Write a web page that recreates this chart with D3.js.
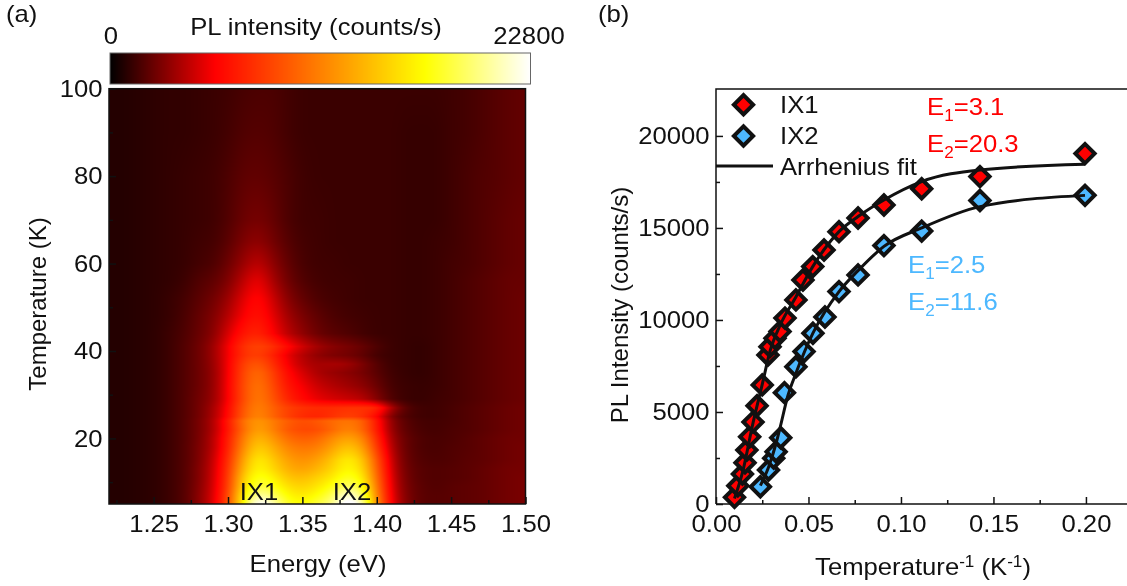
<!DOCTYPE html>
<html>
<head>
<meta charset="utf-8">
<script src="https://cdn.jsdelivr.net/npm/d3@7"></script>
<style>
  html, body { margin: 0; background: #fff; }
  #wrap { position: relative; width: 1127px; height: 586px; overflow: hidden; }
  canvas, svg { position: absolute; left: 0; top: 0; }
  text { font-family: "Liberation Sans", Arial, sans-serif; fill: #111; }
</style>
</head>
<body>
<div id="wrap">
  <canvas id="map" width="1127" height="586"></canvas>
  <svg id="chart" width="1127" height="586"></svg>
</div>
<script>
// Panel (a): PL map, hundreds of counts/s, one row per temperature
const energies = d3.range(29).map(i => +(1.22 + i * 0.01).toFixed(2));
const temps = [5, 7, 9, 11, 13, 15, 18, 20, 22, 24, 25, 27, 29, 32, 35, 37, 39, 41, 44, 48, 52, 56, 60, 65, 70, 80, 90, 100];
const plMap = [
  [8, 8, 9, 10, 13, 18, 30, 48, 88, 170, 240, 215, 178, 170, 185, 200, 245, 220, 120, 52, 28, 20, 19, 20, 21, 22, 24, 26, 27],
  [8, 8, 9, 10, 13, 18, 30, 47, 85, 165, 212, 195, 168, 160, 172, 188, 225, 200, 115, 50, 27, 20, 19, 20, 21, 22, 24, 26, 27],
  [8, 8, 9, 10, 13, 18, 29, 46, 82, 155, 190, 178, 157, 150, 160, 175, 198, 182, 110, 48, 26, 20, 18, 20, 21, 22, 24, 26, 27],
  [8, 8, 9, 10, 13, 18, 28, 45, 80, 148, 180, 167, 145, 140, 150, 162, 182, 168, 105, 46, 25, 19, 18, 19, 20, 22, 24, 26, 27],
  [8, 8, 9, 10, 13, 18, 28, 44, 78, 138, 172, 155, 135, 128, 138, 152, 172, 158, 100, 44, 24, 19, 18, 19, 20, 22, 24, 26, 26],
  [8, 8, 9, 10, 13, 18, 27, 43, 75, 130, 167, 148, 128, 120, 128, 145, 167, 150, 95, 42, 23, 18, 17, 18, 20, 21, 23, 25, 26],
  [8, 8, 9, 10, 13, 18, 27, 40, 70, 118, 152, 135, 115, 108, 112, 128, 147, 132, 82, 38, 22, 17, 16, 18, 19, 21, 23, 25, 26],
  [8, 8, 9, 10, 13, 18, 26, 40, 68, 112, 142, 125, 105, 98, 102, 118, 132, 120, 75, 35, 22, 17, 16, 17, 19, 21, 23, 25, 25],
  [8, 8, 9, 10, 13, 18, 26, 38, 65, 105, 132, 115, 95, 88, 90, 103, 117, 106, 68, 32, 20, 16, 15, 17, 18, 20, 22, 24, 25],
  [8, 8, 9, 10, 13, 18, 26, 38, 66, 108, 127, 112, 98, 90, 95, 104, 110, 103, 66, 30, 19, 15, 15, 16, 18, 20, 22, 24, 25],
  [8, 8, 9, 10, 13, 18, 25, 37, 60, 98, 120, 102, 85, 75, 72, 78, 86, 80, 60, 26, 17, 14, 14, 16, 18, 20, 22, 24, 25],
  [8, 8, 9, 10, 13, 18, 25, 36, 58, 95, 117, 100, 85, 78, 75, 76, 79, 79, 76, 36, 18, 14, 14, 16, 18, 20, 22, 24, 25],
  [8, 8, 9, 10, 13, 18, 25, 33, 55, 90, 114, 95, 72, 60, 52, 48, 45, 42, 30, 17, 13, 12, 14, 15, 17, 19, 21, 23, 24],
  [8, 8, 9, 10, 13, 18, 24, 32, 55, 90, 112, 90, 65, 55, 45, 40, 36, 32, 24, 15, 13, 12, 13, 15, 17, 19, 21, 23, 24],
  [8, 8, 9, 10, 13, 18, 24, 32, 54, 88, 107, 85, 60, 48, 38, 34, 31, 27, 20, 14, 12, 11, 13, 15, 17, 19, 21, 23, 24],
  [8, 8, 9, 10, 13, 18, 24, 33, 54, 85, 98, 78, 55, 42, 36, 38, 36, 28, 19, 13, 12, 11, 13, 15, 17, 19, 21, 23, 24],
  [8, 8, 9, 10, 13, 18, 24, 34, 54, 78, 87, 72, 52, 40, 32, 28, 26, 22, 15, 13, 12, 11, 13, 15, 17, 19, 21, 23, 24],
  [8, 8, 9, 10, 13, 18, 24, 34, 54, 78, 88, 78, 60, 46, 36, 30, 27, 23, 17, 13, 12, 11, 13, 15, 17, 19, 21, 23, 24],
  [8, 8, 9, 10, 13, 17, 23, 30, 48, 66, 74, 58, 42, 32, 24, 20, 18, 15, 13, 13, 12, 12, 13, 15, 17, 19, 21, 23, 24],
  [8, 8, 9, 10, 12, 16, 22, 28, 40, 56, 66, 52, 36, 27, 21, 17, 15, 14, 13, 13, 12, 12, 13, 15, 17, 19, 21, 23, 24],
  [8, 8, 9, 10, 12, 15, 20, 25, 34, 50, 62, 46, 30, 22, 17, 15, 14, 13, 13, 13, 12, 12, 13, 15, 17, 19, 21, 23, 24],
  [8, 8, 9, 10, 11, 13, 18, 21, 28, 42, 55, 38, 25, 18, 15, 14, 14, 13, 13, 13, 12, 12, 13, 15, 17, 19, 21, 23, 23],
  [8, 8, 9, 10, 11, 12, 15, 17, 24, 34, 44, 32, 22, 16, 14, 14, 13, 13, 13, 13, 12, 12, 13, 15, 16, 18, 20, 22, 23],
  [8, 8, 9, 10, 11, 12, 14, 15, 20, 28, 33, 26, 19, 15, 14, 13, 13, 13, 13, 13, 12, 12, 13, 14, 16, 18, 20, 22, 23],
  [8, 8, 9, 10, 11, 12, 13, 14, 18, 24, 27, 23, 17, 14, 14, 13, 13, 13, 13, 13, 12, 12, 12, 14, 16, 18, 20, 22, 23],
  [8, 8, 9, 10, 11, 12, 13, 14, 17, 21, 22, 20, 17, 14, 13, 13, 13, 13, 13, 13, 12, 12, 12, 14, 16, 18, 19, 21, 22],
  [8, 8, 9, 10, 11, 11, 12, 13, 15, 18, 19, 18, 15, 13, 13, 13, 13, 13, 13, 13, 12, 12, 12, 14, 15, 17, 19, 21, 22],
  [8, 8, 9, 10, 11, 11, 12, 13, 14, 16, 17, 17, 15, 13, 13, 13, 13, 13, 13, 13, 13, 13, 13, 14, 15, 17, 19, 21, 22]
];
const colorStops = [0, 57, 114, 171, 228];
const colorRange = ['#000000', '#ff0000', '#ff8000', '#ffff00', '#ffffff'];
const energyTicks = [1.25, 1.30, 1.35, 1.40, 1.45, 1.50];
const energyMinor = [1.225, 1.275, 1.325, 1.375, 1.425, 1.475];
const tempTicks = [20, 40, 60, 80, 100];
const tempMinor = [10, 30, 50, 70, 90];

// Panel (b): integrated intensity against 1/T
const ix1X = [0.0100, 0.0118, 0.0143, 0.0157, 0.0167, 0.0182, 0.0200, 0.0222, 0.0250, 0.0281, 0.0292, 0.0319, 0.0346, 0.0373, 0.0432, 0.0470, 0.0523, 0.0584, 0.0665, 0.0768, 0.0908, 0.1112, 0.1427, 0.1995];
const ix1Y = [360, 990, 1630, 2240, 2930, 3650, 4450, 5340, 6470, 8100, 8550, 9000, 9370, 10100, 11090, 12170, 12900, 13800, 14800, 15540, 16250, 17130, 17790, 19040];
const ix2X = [0.0240, 0.0284, 0.0312, 0.0325, 0.0350, 0.0370, 0.0432, 0.0476, 0.0524, 0.0589, 0.0665, 0.0768, 0.0908, 0.1112, 0.1427, 0.1995];
const ix2Y = [940, 1850, 2490, 2840, 3600, 6050, 7460, 8280, 9280, 10160, 11540, 12450, 14040, 14830, 16490, 16770];
const fit1X = [0.0100, 0.0143, 0.0200, 0.0250, 0.0292, 0.0346, 0.0432, 0.0523, 0.0665, 0.0768, 0.0908, 0.1112, 0.1427, 0.1995];
const fit1Y = [300, 1700, 4400, 6500, 8300, 9700, 11250, 12900, 14800, 15620, 16520, 17520, 18150, 18460];
const fit2X = [0.0240, 0.0284, 0.0325, 0.0346, 0.0389, 0.0432, 0.0524, 0.0665, 0.0768, 0.0908, 0.1112, 0.1427, 0.1995];
const fit2Y = [1000, 2000, 3300, 4130, 5900, 7100, 9280, 11540, 12680, 14000, 15000, 16160, 16770];
const tempInvTicks = [0, 0.05, 0.10, 0.15, 0.20];
const tempInvMinor = [0.025, 0.075, 0.125, 0.175];
const plTicks = [0, 5000, 10000, 15000, 20000];
const plMinor = [2500, 7500, 12500, 17500];

const svg = d3.select('#chart');
const red = '#ff0000';
const blue = '#4db8ff';
const fontSize = 24;
const widen = 1.07; // the horizontal text in the figure runs a bit wide

const label = (lx, ly, str, anchor, fill) => {
  const t = svg.append('text')
    .attr('transform', `translate(${lx},${ly}) scale(${widen},1)`)
    .attr('text-anchor', anchor || 'start')
    .attr('font-size', fontSize);
  if (fill) t.style('fill', fill);
  if (str) t.text(str);
  return t;
};

// (a) map
const x = d3.scaleLinear().domain([1.22, 1.50]).range([109, 525.5]);
const y = d3.scaleLinear().domain([5, 100]).range([504, 88.7]);
const color = d3.scaleLinear().domain(colorStops).range(colorRange).clamp(true);
const rowIndex = d3.scaleLinear().domain(temps).range(temps.map((_, i) => i));
const rowCurves = plMap.map(row => d3.interpolateBasis(row)); // smooth along energy

const ctx = document.getElementById('map').getContext('2d');
const px0 = Math.round(x.range()[0]), px1 = Math.round(x.range()[1]);
const py0 = Math.round(y.range()[1]), py1 = Math.round(y.range()[0]);
for (let py = py0; py < py1; py++) {
  const r = rowIndex(y.invert(py + 0.5));
  const r0 = Math.min(Math.floor(r), temps.length - 2);
  for (let px = px0; px < px1; px++) {
    const t = (x.invert(px + 0.5) - 1.22) / 0.28;
    const value = d3.interpolateNumber(rowCurves[r0](t), rowCurves[r0 + 1](t))(r - r0);
    ctx.fillStyle = color(value);
    ctx.fillRect(px, py, 1, 1);
  }
}

const mapG = svg.append('g');
mapG.append('rect')
  .attr('x', 109).attr('y', 88.7)
  .attr('width', 416.5).attr('height', 415.3)
  .attr('fill', 'none').attr('stroke', '#111').attr('stroke-width', 1.5);

const styleAxis = g => {
  g.select('.domain').remove();
  g.selectAll('line').attr('stroke', '#111').attr('stroke-width', 1.5);
  g.selectAll('text')
    .attr('font-size', fontSize)
    .attr('transform', `scale(${widen},1)`)
    .style('font-family', '"Liberation Sans", Arial, sans-serif')
    .attr('fill', '#111');
};

mapG.append('g').attr('transform', 'translate(0,504)')
  .call(d3.axisBottom(x).tickValues(energyTicks).tickFormat(d3.format('.2f')).tickSize(-7).tickPadding(10.5))
  .call(styleAxis);
mapG.append('g').attr('transform', 'translate(0,504)')
  .call(d3.axisBottom(x).tickValues(energyMinor).tickFormat('').tickSize(-4))
  .call(styleAxis);
mapG.append('g').attr('transform', 'translate(109,0)')
  .call(d3.axisLeft(y).tickValues(tempTicks).tickSize(-7).tickPadding(6))
  .call(styleAxis);
mapG.append('g').attr('transform', 'translate(109,0)')
  .call(d3.axisLeft(y).tickValues(tempMinor).tickFormat('').tickSize(-4))
  .call(styleAxis);

label(259, 500, 'IX1', 'middle');
label(352, 500, 'IX2', 'middle');
label(318, 572, 'Energy (eV)', 'middle');
svg.append('text').attr('transform', 'translate(46,304) rotate(-90)').attr('text-anchor', 'middle').attr('font-size', fontSize).text('Temperature (K)');
label(6, 22, '(a)');
label(598, 22, '(b)');

// colour bar
const barScale = d3.scaleLinear().domain([0, 228]).range([110, 530]);
svg.append('g').selectAll('rect')
  .data(d3.range(110, 530))
  .join('rect')
    .attr('x', d => d)
    .attr('y', 53)
    .attr('width', 1)
    .attr('height', 31)
    .attr('shape-rendering', 'crispEdges')
    .attr('fill', d => color(barScale.invert(d + 0.5)));
svg.append('rect').attr('x', 110).attr('y', 53).attr('width', 420.5).attr('height', 31)
  .attr('fill', 'none').attr('stroke', '#666').attr('stroke-width', 1);
label(111, 44, '0', 'middle');
label(529, 44, '22800', 'middle');
label(316, 35, 'PL intensity (counts/s)', 'middle');

// (b) Arrhenius plot
const bx = d3.scaleLinear().domain([0, 0.2222]).range([716, 1127]);
const by = d3.scaleLinear().domain([0, 22550]).range([504, 89]);

svg.append('path')
  .attr('d', `M716,504H1127M716,504V89H1127`)
  .attr('fill', 'none').attr('stroke', '#111').attr('stroke-width', 1.5);

svg.append('g').attr('transform', 'translate(0,504)')
  .call(d3.axisBottom(bx).tickValues(tempInvTicks).tickFormat(d3.format('.2f')).tickSize(-7).tickPadding(10.5))
  .call(styleAxis);
svg.append('g').attr('transform', 'translate(0,504)')
  .call(d3.axisBottom(bx).tickValues(tempInvMinor).tickFormat('').tickSize(-4))
  .call(styleAxis);
svg.append('g').attr('transform', 'translate(716,0)')
  .call(d3.axisLeft(by).tickValues(plTicks).tickFormat(d3.format('d')).tickSize(-7).tickPadding(6))
  .call(styleAxis);
svg.append('g').attr('transform', 'translate(716,0)')
  .call(d3.axisLeft(by).tickValues(plMinor).tickFormat('').tickSize(-4))
  .call(styleAxis);

const diamond = d3.symbol().type(d3.symbolSquare).size(185);
const drawMarkers = (xs, ys, fill) => {
  svg.append('g').selectAll('path')
    .data(xs.map((d, i) => [d, ys[i]]))
    .join('path')
      .attr('d', diamond)
      .attr('transform', d => `translate(${bx(d[0])},${by(d[1])}) rotate(45)`)
      .attr('fill', fill)
      .attr('stroke', '#111')
      .attr('stroke-width', 4);
};
drawMarkers(ix1X, ix1Y, red);
drawMarkers(ix2X, ix2Y, blue);

const fitLine = d3.line().x(d => bx(d[0])).y(d => by(d[1])).curve(d3.curveMonotoneX);
[[fit1X, fit1Y], [fit2X, fit2Y]].forEach(([xs, ys]) => {
  svg.append('path')
    .attr('d', fitLine(xs.map((d, i) => [d, ys[i]])))
    .attr('fill', 'none').attr('stroke', '#111').attr('stroke-width', 3);
});

// legend
[[104.7, red, 'IX1', 113.3], [136, blue, 'IX2', 143.8]].forEach(([ly, fill, name, base]) => {
  svg.append('path').attr('d', diamond)
    .attr('transform', `translate(743.5,${ly}) rotate(45)`)
    .attr('fill', fill).attr('stroke', '#111').attr('stroke-width', 4);
  label(780, base, name);
});
svg.append('line').attr('x1', 716).attr('x2', 773).attr('y1', 166).attr('y2', 166)
  .attr('stroke', '#111').attr('stroke-width', 3.2);
label(780, 175, 'Arrhenius fit');

// activation energies
const energyLabel = (lx, ly, sub, val, fill) => {
  const t = label(lx, ly, null, 'start', fill);
  t.append('tspan').text('E');
  t.append('tspan').attr('dy', 6).attr('font-size', 16).text(sub);
  t.append('tspan').attr('dy', -6).text('=' + val);
};
energyLabel(927, 115, '1', '3.1', red);
energyLabel(927, 151.5, '2', '20.3', red);
energyLabel(908, 273, '1', '2.5', blue);
energyLabel(908, 310, '2', '11.6', blue);

const xLab = label(923, 575, null, 'middle');
xLab.append('tspan').text('Temperature');
xLab.append('tspan').attr('dy', -8).attr('font-size', 16).text('-1');
xLab.append('tspan').attr('dy', 8).text(' (K');
xLab.append('tspan').attr('dy', -8).attr('font-size', 16).text('-1');
xLab.append('tspan').attr('dy', 8).text(')');
svg.append('text').attr('transform', 'translate(628,305) rotate(-90)').attr('text-anchor', 'middle').attr('font-size', fontSize).text('PL Intensity (counts/s)');
</script>
</body>
</html>
